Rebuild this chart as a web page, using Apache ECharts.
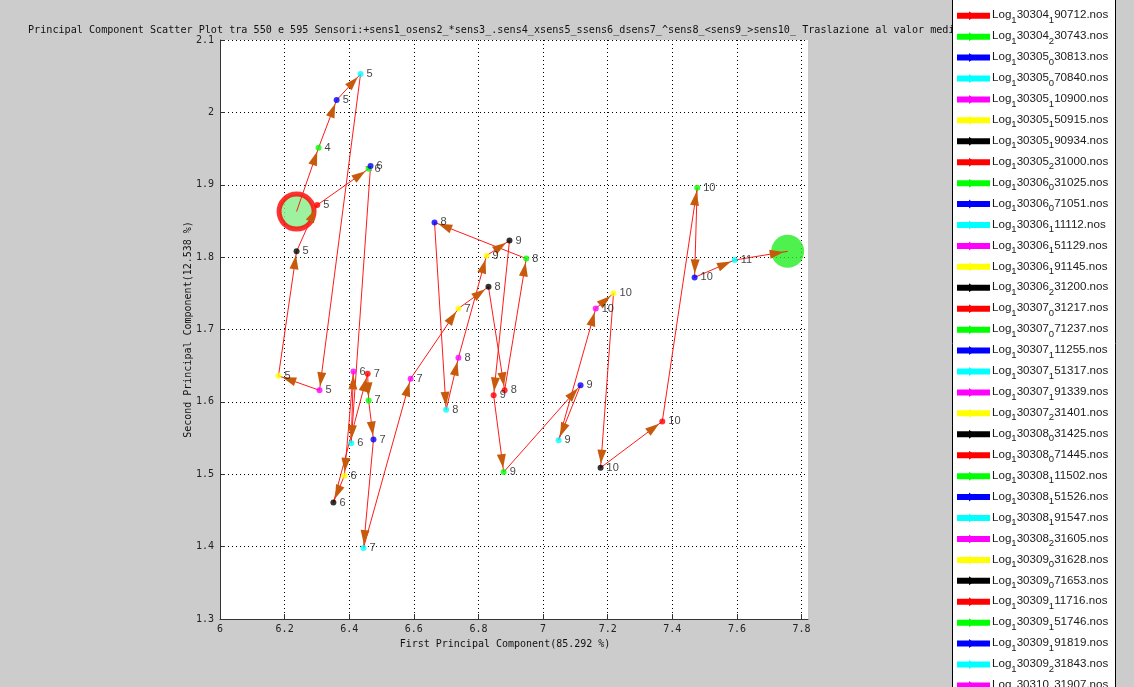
<!DOCTYPE html>
<html>
<head>
<meta charset="utf-8">
<script src="https://cdn.jsdelivr.net/npm/echarts@6/dist/echarts.min.js"></script>
<style>
  html, body { margin: 0; padding: 0; background: #cccccc; }
  #chart { width: 1134px; height: 687px; }
</style>
</head>
<body>
<div id="chart"></div>
<script>
// First and second principal component scores, one per log file, in time order
const pc1 = [6.237, 6.305, 6.361, 6.435, 6.308, 6.181, 6.237, 6.301, 6.460, 6.466,
             6.406, 6.413, 6.385, 6.351, 6.457, 6.460, 6.475, 6.444, 6.590, 6.738,
             6.831, 6.881, 6.948, 6.664, 6.700, 6.738, 6.825, 6.896, 6.847, 6.878,
             7.116, 7.048, 7.163, 7.218, 7.178, 7.369, 7.477, 7.469, 7.593, 7.757];
const pc2 = [1.863, 1.951, 2.017, 2.053, 1.616, 1.636, 1.808, 1.872, 1.922, 1.926,
             1.543, 1.642, 1.498, 1.461, 1.639, 1.602, 1.548, 1.398, 1.632, 1.729,
             1.759, 1.616, 1.798, 1.848, 1.589, 1.661, 1.802, 1.823, 1.609, 1.503,
             1.623, 1.547, 1.729, 1.750, 1.509, 1.573, 1.896, 1.772, 1.796, 1.808];
// Day of month of each acquisition, written beside its point
const dayTags = [4, 4, 5, 5, 5, 5, 5, 5, 6, 6,
                 6, 6, 6, 6, 7, 7, 7, 7, 7, 7,
                 8, 8, 8, 8, 8, 8, 9, 9, 9, 9,
                 9, 9, 10, 10, 10, 10, 10, 10, 11, 11];
// Log file names (underscore = TeX subscript of the next character)
const logFiles = [
  'Log_130304_190712.nos', 'Log_130304_230743.nos', 'Log_130305_030813.nos', 'Log_130305_070840.nos',
  'Log_130305_110900.nos', 'Log_130305_150915.nos', 'Log_130305_190934.nos', 'Log_130305_231000.nos',
  'Log_130306_031025.nos', 'Log_130306_071051.nos', 'Log_130306_111112.nos', 'Log_130306_151129.nos',
  'Log_130306_191145.nos', 'Log_130306_231200.nos', 'Log_130307_031217.nos', 'Log_130307_071237.nos',
  'Log_130307_111255.nos', 'Log_130307_151317.nos', 'Log_130307_191339.nos', 'Log_130307_231401.nos',
  'Log_130308_031425.nos', 'Log_130308_071445.nos', 'Log_130308_111502.nos', 'Log_130308_151526.nos',
  'Log_130308_191547.nos', 'Log_130308_231605.nos', 'Log_130309_031628.nos', 'Log_130309_071653.nos',
  'Log_130309_111716.nos', 'Log_130309_151746.nos', 'Log_130309_191819.nos', 'Log_130309_231843.nos',
  'Log_130310_031907.nos'
];
const titleText = 'Principal Component Scatter Plot tra 550 e 595 Sensori:+sens1_osens2_*sens3_.sens4_xsens5_ssens6_dsens7_^sens8_<sens9_>sens10_ Traslazione al valor medio';
const xName = 'First Principal Component(85.292 %)';
const yName = 'Second Principal Component(12.538 %)';
// axis limits
const xMin = 6, xMax = 7.82, xStep = 0.2;
const yMin = 1.3, yMax = 2.1, yStep = 0.1;

// MATLAB default colour cycle r g b c m y k
const CYCLE = ['#ff0000', '#00ff00', '#0000ff', '#00ffff', '#ff00ff', '#ffff00', '#000000'];
const MONO = '"DejaVu Sans Mono", "Liberation Mono", monospace';
const SANS = '"Liberation Sans", Arial, sans-serif';
const ARROW = '#c85a0c';

const points = pc1.map((x, i) => [x, pc2[i]]);
const last = points.length - 1;

// the first and last files are shown by the big start / end discs instead
const markerData = points.map((p, i) => {
  const inner = i > 0 && i < last;
  return {
    value: p,
    symbolSize: inner ? 6 : 0,
    itemStyle: { color: CYCLE[i % CYCLE.length] },
    label: { show: inner, formatter: String(dayTags[i]) }
  };
});

const segments = points.slice(1).map((p, i) => [points[i][0], points[i][1], p[0], p[1]]);

// Turn "Log_130304_190712.nos" into rich text with subscripts
function richName(name) {
  let out = '';
  for (let i = 0; i < name.length; i++) {
    if (name[i] === '_' && i + 1 < name.length) {
      out += '{s|' + name[i + 1] + '}';
      i++;
    } else {
      let j = i;
      while (j < name.length && name[j] !== '_') j++;
      out += '{n|' + name.slice(i, j) + '}';
      i = j - 1;
    }
  }
  return out;
}

const legendTop = 15.7, legendStep = 20.93;
const legendEls = [
  { type: 'rect', z: 50, shape: { x: 952.5, y: -5, width: 163, height: 720 },
    style: { fill: '#ffffff', stroke: '#000000', lineWidth: 1 } }
];
logFiles.forEach((name, i) => {
  const c = CYCLE[i % CYCLE.length];
  legendEls.push({
    type: 'group', x: 957, y: legendTop + legendStep * i, z: 51,
    children: [
      { type: 'rect', z: 51, shape: { x: 0, y: -3, width: 33, height: 6 }, style: { fill: c } },
      { type: 'polygon', z: 52, shape: { points: [[12, -4.5], [18, 0], [12, 4.5]] }, style: { fill: c } },
      { type: 'text', z: 52, x: 35, y: 0,
        style: {
          text: richName(name), verticalAlign: 'middle', fill: '#222',
          rich: {
            n: { fontFamily: SANS, fontSize: 11.6, fill: '#1a1a1a', verticalAlign: 'top', lineHeight: 13 },
            s: { fontFamily: SANS, fontSize: 9.5, fill: '#1a1a1a', verticalAlign: 'top', lineHeight: 10, padding: [6, 0, 0, 0] }
          }
        } }
    ]
  });
});

const isTick = (v, step) => Math.abs(v / step - Math.round(v / step)) < 1e-6;

const chart = echarts.init(document.getElementById('chart'), null, { renderer: 'canvas' });
chart.setOption({
  backgroundColor: '#cccccc',
  animation: false,
  graphic: [
    { type: 'text', z: 1, x: 28, y: 30,
      style: { text: titleText, font: '10.15px ' + MONO, fill: '#111', verticalAlign: 'middle' } },
    ...legendEls
  ],
  grid: { left: 220, top: 40, width: 588, height: 579, show: true, backgroundColor: '#ffffff', borderWidth: 0 },
  xAxis: {
    type: 'value', min: xMin, max: xMax, interval: xStep,
    name: xName, nameLocation: 'middle', nameGap: 20, nameMoveOverlap: false,
    nameTextStyle: { fontFamily: MONO, fontSize: 10, color: '#111', padding: [0, 18, 0, 0] },
    axisLine: { lineStyle: { color: '#333', width: 1 } },
    axisTick: { inside: true, length: 5, lineStyle: { color: '#333' } },
    axisLabel: { fontFamily: MONO, fontSize: 10, color: '#222', margin: 5, showMaxLabel: false,
                 formatter: v => (isTick(v, xStep) ? String(+v.toFixed(1)) : '') },
    splitLine: { show: true, showMaxLine: false, lineStyle: { color: '#000', type: [1, 3], width: 1 } }
  },
  yAxis: {
    type: 'value', min: yMin, max: yMax, interval: yStep,
    name: yName, nameLocation: 'middle', nameGap: 27, nameMoveOverlap: false,
    nameTextStyle: { fontFamily: MONO, fontSize: 10, color: '#111' },
    axisLine: { show: true, lineStyle: { color: '#333', width: 1 } },
    axisTick: { show: true, inside: true, length: 5, lineStyle: { color: '#333' } },
    axisLabel: { fontFamily: MONO, fontSize: 10, color: '#222', margin: 6 },
    splitLine: { show: true, lineStyle: { color: '#000', type: [1, 3], width: 1 } }
  },
  series: [
    { // start and end discs
      type: 'scatter', z: 1, clip: false, silent: true,
      data: [
        { value: points[0], symbolSize: 35, itemStyle: { color: '#86ee86', borderColor: '#ff0000', borderWidth: 5 } },
        { value: points[last], symbolSize: 33, itemStyle: { color: '#22ee22' } }
      ]
    },
    { // trajectory
      type: 'line', z: 2, data: points, showSymbol: false, clip: false,
      lineStyle: { color: '#ff1a1a', width: 1 }
    },
    { // arrow heads
      type: 'custom', z: 3, data: segments,
      encode: { x: [0, 2], y: [1, 3] },
      renderItem(params, api) {
        const a = api.coord([api.value(0), api.value(1)]);
        const b = api.coord([api.value(2), api.value(3)]);
        let dx = b[0] - a[0], dy = b[1] - a[1];
        const len = Math.hypot(dx, dy);
        if (len < 1) return null;
        dx /= len; dy /= len;
        const headLen = Math.min(14, len * 0.8), half = 4.5, gap = Math.min(4, len * 0.2);
        const tip = [b[0] - dx * gap, b[1] - dy * gap];
        const base = [tip[0] - dx * headLen, tip[1] - dy * headLen];
        return {
          type: 'polygon',
          shape: { points: [tip, [base[0] - dy * half, base[1] + dx * half], [base[0] + dy * half, base[1] - dx * half]] },
          style: { fill: ARROW }
        };
      }
    },
    { // one point per log file
      type: 'scatter', z: 4, symbol: 'circle', data: markerData,
      label: { show: true, position: 'right', distance: 3, fontFamily: SANS, fontSize: 11, color: '#111' }
    }
  ]
});
</script>
</body>
</html>
